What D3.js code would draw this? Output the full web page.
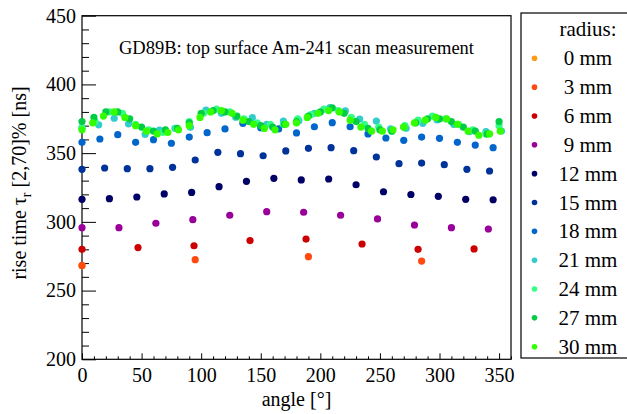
<!DOCTYPE html>
<html>
<head>
<meta charset="utf-8">
<script src="https://cdn.jsdelivr.net/npm/d3@7"></script>
<style>
  body { margin: 0; background: #fff; }
  text { font-family: "Liberation Serif", "Times New Roman", serif; }
</style>
</head>
<body>
<div id="chart"></div>
<script>
/*global d3 */

//*************************0. Data

const radii = [0, 3, 6, 9, 12, 15, 18, 21, 24, 27, 30]
const radiusLabels = ["0 mm", "3 mm", "6 mm", "9 mm", "12 mm", "15 mm", "18 mm", "21 mm", "24 mm", "27 mm", "30 mm"]
const radiusColors = ["#ff9a12", "#ff4a12", "#cc0000", "#990099", "#000066", "#003399",
                      "#0066cc", "#33cccc", "#33ff88", "#00cc44", "#33ff00"]

const angle0 = [0]
const rise0 = [268.0]

const angle3 = [0, 95, 190, 285]
const rise3 = [268.3, 272.5, 274.7, 271.5]

const angle6 = [0, 47, 94, 141, 188, 235, 282, 329]
const rise6 = [280.0, 281.3, 282.6, 286.4, 287.5, 283.9, 280.0, 280.3]

const angle9 = [0, 31, 62, 93, 124, 155, 186, 217, 248, 279, 310, 341]
const rise9 = [295.8, 295.8, 299.0, 301.6, 304.8, 307.4, 307.0, 304.8, 302.1, 297.7, 295.8, 294.8]

const angle12 = [0, 23, 46, 69, 92, 115, 138, 161, 184, 207, 230, 253, 276, 299, 322, 345]
const rise12 = [316.4, 316.9, 318.1, 320.3, 321.4, 325.6, 329.5, 331.7, 330.5, 331.2, 327.0, 321.9,
                319.9, 318.6, 316.4, 316.1]

const angle15 = [0, 19, 38, 57, 76, 95, 114, 133, 152, 171, 190, 209, 228, 247, 266, 285, 304, 323, 342]
const rise15 = [338.2, 339.2, 338.7, 338.7, 339.7, 345.0, 350.6, 349.6, 348.1, 351.6, 353.5, 354.0,
                351.8, 347.2, 342.3, 342.8, 341.6, 338.2, 337.0]

const angle18 = [0, 15, 30, 45, 60, 75, 90, 105, 120, 135, 150, 165, 180, 195, 210, 225, 240, 255,
                 270, 285, 300, 315, 330, 345]
const rise18 = [357.9, 360.3, 363.4, 357.9, 359.8, 357.2, 361.7, 364.9, 367.6, 371.7, 368.5, 367.6,
                364.7, 369.2, 372.2, 369.2, 364.0, 361.0, 359.3, 361.7, 360.8, 357.9, 355.9, 354.0]

const angle21 = [0, 14, 27, 39, 53, 65, 78, 91, 104, 117, 129, 143, 155, 169, 182, 195, 208, 221,
                 233, 247, 259, 272, 286, 298, 312, 325, 339, 352]
const rise21 = [368.6, 370.6, 375.4, 371.3, 363.7, 366.8, 368.1, 368.8, 381.4, 379.0, 376.1, 375.8,
                371.0, 373.4, 373.6, 379.0, 383.1, 380.7, 374.8, 373.4, 367.6, 368.1, 371.7, 374.1,
                370.9, 365.6, 365.6, 366.1]

const angle24 = [0, 11, 23, 34, 45, 56, 68, 79, 90, 102, 113, 124, 136, 147, 158, 169, 181, 192,
                 203, 215, 226, 237, 249, 260, 271, 282, 294, 305, 316, 328, 339, 350]
const rise24 = [368, 373, 380, 379, 371, 367, 365, 368, 373, 379, 382, 380, 375, 372, 371, 371,
                375, 378, 382, 381, 376, 371, 369, 366, 370, 374, 377, 375, 371, 367, 364, 370]

const angle27 = [0, 10, 20, 30, 40, 50, 60, 70, 80, 90, 100, 110, 120, 130, 140, 150, 160, 170,
                 180, 190, 200, 210, 220, 230, 240, 250, 260, 270, 280, 290, 300, 310, 320, 330, 340, 350]
const rise27 = [373, 376, 380, 380, 375, 369, 366, 367, 368, 372, 379, 381, 380, 377, 373, 370,
                369, 371, 373, 377, 380, 383, 379, 373, 368, 367, 366, 369, 372, 375, 375, 373,
                369, 366, 364, 373]

const angle30 = [0, 9, 18, 27, 36, 45, 54, 63, 72, 81, 90, 99, 108, 117, 126, 135, 144, 153, 162,
                 171, 180, 189, 198, 207, 216, 225, 234, 243, 252, 261, 270, 279, 288, 297, 306,
                 315, 324, 333, 342, 351]
const rise30 = [367, 372, 377, 380, 376, 370, 366, 364, 365, 367, 370, 376, 380, 381, 379, 374,
                371, 368, 367, 371, 372, 376, 379, 381, 380, 374, 369, 366, 366, 367, 369, 372,
                374, 376, 375, 371, 366, 363, 364, 366]

const angleSets = [angle0, angle3, angle6, angle9, angle12, angle15, angle18, angle21, angle24, angle27, angle30]
const riseSets = [rise0, rise3, rise6, rise9, rise12, rise15, rise18, rise21, rise24, rise27, rise30]

const xMajorTicks = [0, 50, 100, 150, 200, 250, 300, 350]
const yMajorTicks = [200, 250, 300, 350, 400, 450]

async function draw() {

//*************************1. Set up Measurement

    let dimensions = {
        width: 627,
        height: 414,
        margin: { top: 15.7, right: 116, bottom: 54.7, left: 82 }
    }
    dimensions.boundedWidth = dimensions.width - dimensions.margin.left - dimensions.margin.right
    dimensions.boundedHeight = dimensions.height - dimensions.margin.top - dimensions.margin.bottom

//*************************2. Draw Canvas

    const wrapper = d3.select("#chart")
        .append("svg")
        .attr("width", dimensions.width)
        .attr("height", dimensions.height)
        .style("background", "#fff")

    const bounds = wrapper.append("g")
        .attr("transform", `translate(${dimensions.margin.left},${dimensions.margin.top})`)

//*************************3. Prepare Data

    const series = radii.map((r, i) => ({
        radius: r,
        color: radiusColors[i],
        points: angleSets[i].map((a, j) => ({ angle: a, rise: riseSets[i][j] }))
    }))

    const angleAccessor = d => d.angle
    const riseAccessor = d => d.rise

//*************************4. Scales

    const xScale = d3.scaleLinear()
        .domain([0, 360])
        .range([0, dimensions.boundedWidth])

    const yScale = d3.scaleLinear()
        .domain([200, 450])
        .range([dimensions.boundedHeight, 0])

//*************************5. Axes (ticks point inward, ROOT style)

    const xMinor = d3.range(0, 361, 10).filter(v => v % 50 !== 0)
    const yMinor = d3.range(200, 451, 10).filter(v => v % 50 !== 0)

    bounds.append("g")
        .attr("transform", `translate(0,${dimensions.boundedHeight})`)
        .call(d3.axisBottom(xScale).tickValues(xMajorTicks).tickSize(-6).tickPadding(8.5))
    bounds.append("g")
        .attr("transform", `translate(0,${dimensions.boundedHeight})`)
        .call(d3.axisBottom(xScale).tickValues(xMinor).tickSize(-3).tickFormat(""))

    bounds.append("g")
        .call(d3.axisLeft(yScale).tickValues(yMajorTicks).tickSize(-14).tickPadding(6))
    bounds.append("g")
        .call(d3.axisLeft(yScale).tickValues(yMinor).tickSize(-7).tickFormat(""))

    bounds.selectAll(".domain").remove()
    bounds.selectAll(".tick line").attr("stroke", "#000")
    bounds.selectAll(".tick text")
        .style("font-family", "'Liberation Serif', serif")
        .style("font-size", "20px")
        .attr("fill", "#000")

    // frame
    bounds.append("rect")
        .attr("width", dimensions.boundedWidth)
        .attr("height", dimensions.boundedHeight)
        .attr("fill", "none")
        .attr("stroke", "#000")
        .attr("stroke-width", 1.2)

//*************************6. Draw Dots

    bounds.append("g").selectAll("g")
        .data(series)
        .join("g")
        .attr("fill", d => d.color)
        .selectAll("circle")
        .data(d => d.points)
        .join("circle")
        .attr("cx", d => xScale(angleAccessor(d)))
        .attr("cy", d => yScale(riseAccessor(d)))
        .attr("r", 3.6)

//*************************7. Labels

    bounds.append("text")
        .attr("x", xScale(180))
        .attr("y", 38)
        .attr("text-anchor", "middle")
        .style("font-size", "18.5px")
        .text("GD89B: top surface Am-241 scan measurement")

    wrapper.append("text")
        .attr("x", dimensions.margin.left + dimensions.boundedWidth / 2)
        .attr("y", 406)
        .attr("text-anchor", "middle")
        .style("font-size", "20px")
        .text("angle [°]")

    const yTitle = wrapper.append("text")
        .attr("transform", `translate(26,183) rotate(-90)`)
        .attr("text-anchor", "middle")
        .style("font-size", "20px")
    yTitle.append("tspan").text("rise time τ")
    yTitle.append("tspan").attr("dy", 5).style("font-size", "14px").text("r")
    yTitle.append("tspan").attr("dy", -5).text(" [2,70]% [ns]")

//*************************8. Legend

    const legend = wrapper.append("g")

    legend.append("rect")
        .attr("x", 521)
        .attr("y", 13)
        .attr("width", 120)
        .attr("height", 345)
        .attr("fill", "#fff")
        .attr("stroke", "#000")
        .attr("stroke-width", 1.2)

    legend.append("text")
        .attr("x", 588)
        .attr("y", 36)
        .attr("text-anchor", "middle")
        .style("font-size", "21px")
        .text("radius:")

    const rows = legend.selectAll(".row")
        .data(series)
        .join("g")
        .attr("class", "row")
        .attr("transform", (d, i) => `translate(0,${58.3 + i * 28.84})`)

    rows.append("circle")
        .attr("cx", 534.5)
        .attr("cy", 0)
        .attr("r", 2.8)
        .attr("fill", d => d.color)

    rows.append("text")
        .attr("x", 588)
        .attr("y", 7)
        .attr("text-anchor", "middle")
        .style("font-size", "21px")
        .text((d, i) => radiusLabels[i])
}
draw()
</script>
</body>
</html>
